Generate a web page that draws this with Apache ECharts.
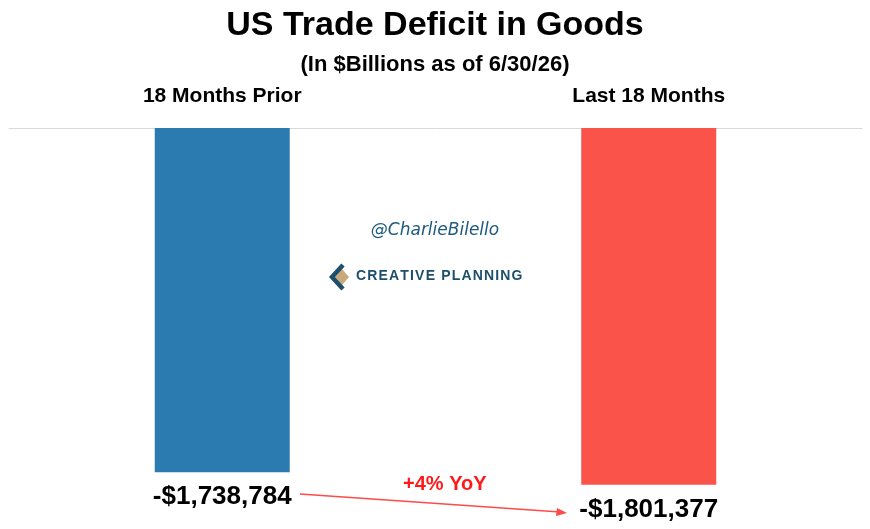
<!DOCTYPE html>
<html><head><meta charset="utf-8">
<script src="https://cdn.jsdelivr.net/npm/echarts@6/dist/echarts.min.js"></script>
<style>html,body{margin:0;padding:0;background:#fff}#c{width:870px;height:529px}</style>
</head><body><div id="c"></div>
<script>
const categories = ['18 Months Prior', 'Last 18 Months'];
const deficitValues = [-1738784, -1801377];
const barColors = ['#2B7BB0', '#F9534A'];
const changeLabel = '+4% YoY';

const F = "'Liberation Sans', Arial, sans-serif";
const chart = echarts.init(document.getElementById('c'), null, {renderer: 'canvas'});
function fmt(v) { return '-$' + Math.abs(v).toString().replace(/\B(?=(\d{3})+(?!\d))/g, ','); }
const spaced = 'CREATIVE PLANNING'.split('').join('\u200A');

chart.setOption({
  backgroundColor: '#fff',
  animation: false,
  title: [
    {text: 'US Trade Deficit in Goods', left: 'center', top: 4,
     textStyle: {fontFamily: F, fontWeight: 'bold', fontSize: 34, color: '#000'}},
    {text: '(In $Billions as of 6/30/26)', left: 'center', top: 49,
     textStyle: {fontFamily: F, fontWeight: 'bold', fontSize: 22, color: '#000'}}
  ],
  grid: {left: 9, right: 8, top: 128, bottom: 5, containLabel: false},
  xAxis: {
    type: 'category', data: categories, position: 'top',
    axisLine: {show: true, onZero: false, lineStyle: {color: '#d9d9d9', width: 1}},
    axisTick: {show: false},
    axisLabel: {margin: 21, fontFamily: F, fontWeight: 'bold', fontSize: 21, color: '#000'}
  },
  yAxis: {type: 'value', min: -2000000, max: 0, show: false, splitLine: {show: false}},
  series: [{
    type: 'bar', barWidth: 135,
    data: deficitValues.map((v, i) => ({value: v, itemStyle: {color: barColors[i]}})),
    label: {show: true, position: 'bottom', distance: 12, formatter: p => fmt(p.value),
      fontFamily: F, fontWeight: 'bold', fontSize: 26, color: '#000'}
  }],
  graphic: [
    {type: 'text', left: 'center', top: 222,
     style: {text: '@CharlieBilello', font: "italic 17px 'DejaVu Sans', sans-serif", fill: '#1d5a7c'}},
    {type: 'text', left: 356, top: 269,
     style: {text: spaced, font: "bold 14px 'Liberation Sans', Arial, sans-serif", fill: '#1d4f6b'}},
    {type: 'polygon', shape: {points: [[342,269],[349,277],[342,285],[335,277]]}, style: {fill: '#c9a97a'}},
    {type: 'polyline', shape: {points: [[343,265],[332,277],[343,289]]}, style: {stroke: '#1d4f6b', lineWidth: 4.5, fill: null}},
    {type: 'text', left: 403, top: 474,
     style: {text: changeLabel, font: "bold 20px " + F, fill: '#ff1a1a'}},
    {type: 'line', shape: {x1: 300, y1: 494, x2: 560, y2: 512}, style: {stroke: '#ff4a4a', lineWidth: 1.5}},
    {type: 'polygon', shape: {points: [[567,513],[557,508],[556,516]]}, style: {fill: '#ff4a4a'}}
  ]
});
</script></body></html>
